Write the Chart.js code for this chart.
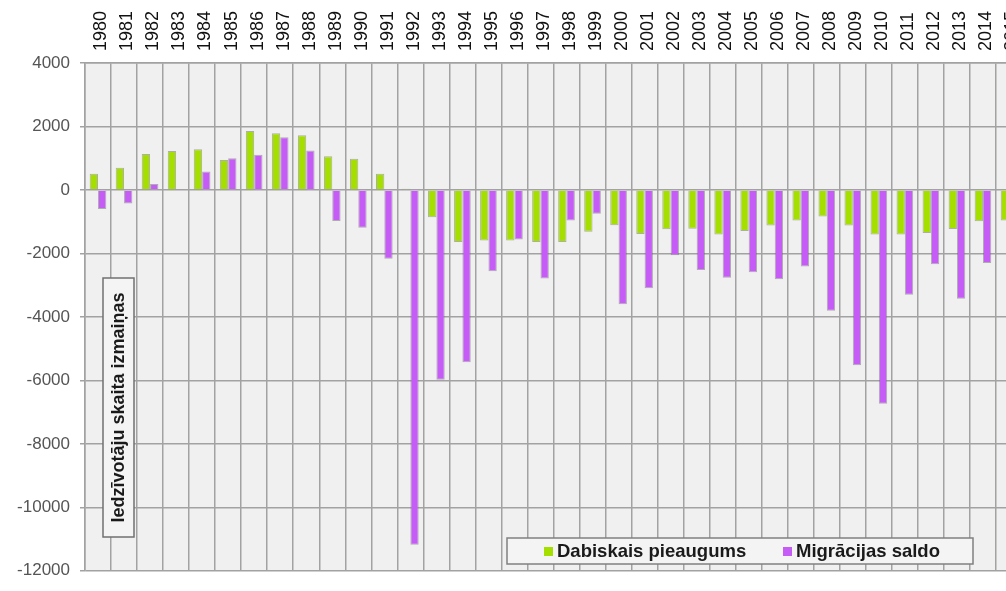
<!DOCTYPE html>
<html>
<head>
<meta charset="utf-8">
<script src="https://cdn.jsdelivr.net/npm/chart.js@4"></script>
<style>
  html, body { margin: 0; padding: 0; background: #fff; overflow: hidden; }
  #wrap { width: 1024px; height: 591px; }
</style>
</head>
<body>
<div id="wrap"><canvas id="myChart" width="1024" height="591"></canvas></div>
<script>
// years on the top axis
var years = ['1980','1981','1982','1983','1984','1985','1986','1987','1988','1989',
             '1990','1991','1992','1993','1994','1995','1996','1997','1998','1999',
             '2000','2001','2002','2003','2004','2005','2006','2007','2008','2009',
             '2010','2011','2012','2013','2014','2015'];

// Dabiskais pieaugums (natural growth)
var naturalGrowth = [510, 700, 1130, 1230, 1280, 940, 1860, 1790, 1720, 1060,
                     980, 510, 40, -860, -1640, -1590, -1590, -1640, -1640, -1320,
                     -1110, -1390, -1240, -1220, -1400, -1290, -1120, -960, -840, -1120,
                     -1400, -1400, -1360, -1230, -990, -960];

// Migrācijas saldo (net migration)
var migration = [-600, -430, 190, 30, 580, 1000, 1110, 1660, 1240, -980,
                 -1190, -2170, -11180, -5980, -5430, -2560, -1560, -2790, -960, -750,
                 -3600, -3100, -2060, -2520, -2770, -2590, -2810, -2410, -3810, -5520,
                 -6740, -3300, -2340, -3430, -2300, -2900];

var yTicks = { min: -12000, max: 4000, step: 2000 };

var axisTitle = 'Iedzīvotāju skaita izmaiņas';

// grey plot background
var plotBg = {
    id: 'plotBg',
    beforeDraw: function(chart) {
        var a = chart.chartArea, ctx = chart.ctx;
        ctx.save();
        ctx.fillStyle = '#f0f0f0';
        ctx.fillRect(a.left, a.top, a.right - a.left, a.bottom - a.top);
        ctx.restore();
    }
};

// boxed legend and boxed axis title inside the plot
var boxes = {
    id: 'boxes',
    afterDraw: function(chart) {
        var ctx = chart.ctx;
        ctx.save();

        // legend box
        var lx = 507, ly = 538, lw = 466, lh = 26;
        ctx.fillStyle = '#f4f4f4';
        ctx.fillRect(lx, ly, lw, lh);
        ctx.strokeStyle = '#808080';
        ctx.lineWidth = 1.5;
        ctx.strokeRect(lx, ly, lw, lh);

        ctx.font = 'bold 18.5px "Liberation Sans", Arial, sans-serif';
        ctx.textBaseline = 'middle';
        ctx.textAlign = 'left';
        var itemX = [544, 783];
        chart.data.datasets.forEach(function(ds, i) {
            ctx.fillStyle = ds.backgroundColor;
            ctx.fillRect(itemX[i], ly + 9, 9, 9);
            ctx.fillStyle = '#1a1a1a';
            ctx.fillText(ds.label, itemX[i] + 13, ly + lh / 2 + 1);
        });

        // axis title box
        var tx = 103, ty = 278, tw = 31, th = 259;
        ctx.fillStyle = '#f4f4f4';
        ctx.fillRect(tx, ty, tw, th);
        ctx.strokeStyle = '#707070';
        ctx.strokeRect(tx, ty, tw, th);
        ctx.font = 'bold 18px "Liberation Sans", Arial, sans-serif';
        ctx.translate(tx + tw / 2 + 1, ty + th / 2);
        ctx.rotate(-Math.PI / 2);
        ctx.textAlign = 'center';
        ctx.fillStyle = '#1a1a1a';
        ctx.fillText(axisTitle, 0, 0);

        ctx.restore();
    }
};

var ctx = document.getElementById('myChart');
var myChart = new Chart(ctx, {
    type: 'bar',
    data: {
        labels: years,
        datasets: [{
            label: 'Dabiskais pieaugums',
            data: naturalGrowth,
            backgroundColor: '#a5df00',
            borderColor: 'rgba(90,90,90,0.45)',
            borderWidth: 1,
            categoryPercentage: 0.64,
            barPercentage: 1.0
        }, {
            label: 'Migrācijas saldo',
            data: migration,
            backgroundColor: '#c55cf6',
            borderColor: 'rgba(90,90,90,0.45)',
            borderWidth: 1,
            categoryPercentage: 0.64,
            barPercentage: 1.0
        }]
    },
    options: {
        responsive: false,
        animation: false,
        devicePixelRatio: 1,
        layout: { padding: { left: 0, right: 2, top: 0, bottom: 2.5 } },
        plugins: {
            legend: { display: false },
            tooltip: { enabled: false }
        },
        scales: {
            x: {
                position: 'top',
                offset: true,
                afterFit: function(s) { s.height = 63; },
                grid: { color: '#a2a2a2', lineWidth: 1.5, drawTicks: false, offset: true },
                border: { color: '#a2a2a2', width: 1.5 },
                ticks: {
                    autoSkip: false,
                    minRotation: 90,
                    maxRotation: 90,
                    padding: 12,
                    labelOffset: 25,
                    color: '#111',
                    font: { family: '"Liberation Sans", Arial, sans-serif', size: 18 }
                }
            },
            y: {
                min: yTicks.min,
                max: yTicks.max,
                afterFit: function(s) { s.width = 85; },
                grid: { color: '#a2a2a2', lineWidth: 1.5, tickLength: 5 },
                border: { color: '#a2a2a2', width: 1.5 },
                ticks: {
                    stepSize: yTicks.step,
                    padding: 10,
                    color: '#555',
                    font: { family: '"Liberation Sans", Arial, sans-serif', size: 17 },
                    callback: function(v) { return String(v); }
                }
            }
        }
    },
    plugins: [plotBg, boxes]
});
</script>
</body>
</html>
